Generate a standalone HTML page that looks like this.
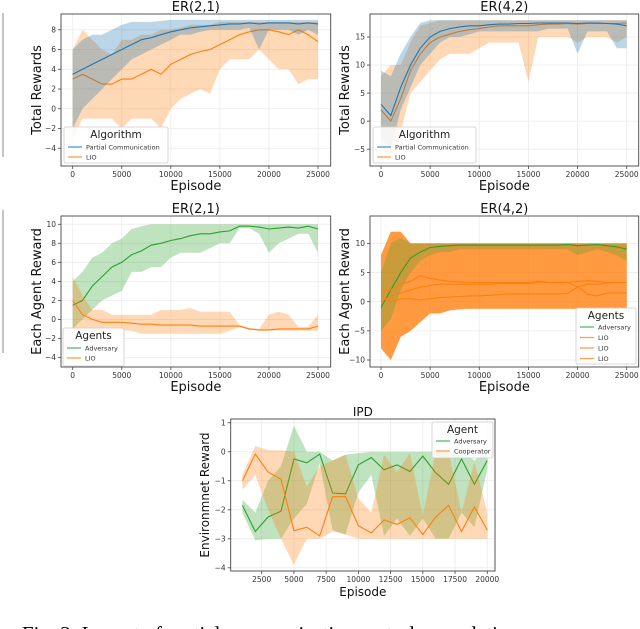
<!DOCTYPE html>
<html><head><meta charset="utf-8">
<style>
html,body{margin:0;padding:0;background:#fff;}
svg{display:block;font-family:"DejaVu Sans","Liberation Sans",sans-serif;}
</style></head>
<body>
<svg id="fig" width="640" height="629" viewBox="0 0 640 629">
<line x1="3" y1="13" x2="3" y2="157" stroke="#888" stroke-width="1"/>
<line x1="3" y1="210" x2="3" y2="353" stroke="#888" stroke-width="1"/>
<text x="22" y="641" font-family="Liberation Serif, serif" font-size="21" textLength="502" lengthAdjust="spacingAndGlyphs">Fig. 3: Impact of partial communication on task completion.</text>
</svg>
<script>
// ---------- data ----------
const ep26 = [0,1000,2000,3000,4000,5000,6000,7000,8000,9000,10000,11000,12000,13000,14000,15000,16000,17000,18000,19000,20000,21000,22000,23000,24000,25000];
// Panel A: ER(2,1) total rewards
const aBlueMean = [3.5,4,4.5,5,5.5,6,6.5,7,7.2,7.5,7.8,8,8.2,8.3,8.4,8.5,8.6,8.6,8.7,8.6,8.7,8.7,8.7,8.6,8.7,8.6];
const aBlueHi   = [6,7,7.5,7.5,8,8.5,8.8,8.8,8.8,8.9,9,9,9,9,9,9,9,9,9,9,9,9,9,9,9,9];
const aBlueLo   = [-2,0,1,2,3,4,5,5.5,6,6.5,7,7.5,7.5,7.8,8,8,8,8,8.2,6,8,8,8,7.5,8,7.5];
const aOrMean   = [3,3.5,3,2.5,2.5,3,3,3.5,4,3.5,4.5,5,5.5,5.8,6,6.5,7,7.5,7.8,8,8,7.8,7.5,8,7.5,6.8];
const aOrHi     = [6,8,7,6,5.5,7,7,7.5,7.5,8,8,8.2,8.5,8.5,8.5,8.8,8.8,8.8,8.8,8.8,8.8,8.8,8.8,8.8,8.8,8.8];
const aOrLo     = [-3,-1,-1,-1,-1,-2,-1,-1,-1,-2,0,1,1.5,2,1.5,4,5,5,5,6,5,4,4,2.5,3,3];
// Panel B: ER(4,2) total rewards
const bBlueMean = [3,1,6,10,13,15,16,16.5,16.8,17,17,17.2,17.3,17.3,17.4,17.4,17.5,17.5,17.5,17.5,17.4,17.5,17.5,17.4,17.3,17];
const bBlueHi   = [9,8,12,15,17.5,18,18,18,18,18,18,18,18,18,18,18,18,18,18,18,18,18,18,18,18,18];
const bBlueLo   = [-3,-5,2,6,10,12,14,15,15,15.5,16,16,16,16,16,16,16,16.5,16.5,16.5,12,16,16,16,13,13];
const bOrMean   = [2,0,4,9,12,14,15,15.5,16,16.3,16.5,16.8,17,17,17,17,17.2,17.3,17.3,17.4,17.3,17.4,17.4,17.4,17.4,17.5];
const bOrHi     = [8,10,10,14,17,17.5,18,18,18,18,18,18,18,18,18,18,18,18,18,18,18,18,18,18,18,18];
const bOrLo     = [-5,-6,-2,5,7,9,11,12,12,12,13,14,14,14,14,7,15,15,15,15,14,15,15,15,14,15];
// Panel C: ER(2,1) each agent
const cGrMean = [1.5,2,3.5,4.5,5.5,6,6.8,7.2,7.8,8,8.3,8.5,8.8,9,9,9.2,9.3,9.8,9.8,9.7,9.5,9.6,9.7,9.6,9.8,9.5];
const cGrHi   = [4,5,6.5,7,8,8.5,9.5,9.8,10,10,10,10,10,10,10,10,10,10,10,10,10,10,10,10,10,10];
const cGrLo   = [-1,0,1,2,2.5,3,5,5,5.5,5.5,6.5,7,7,7,7.5,8,8,9.6,9.6,9,7,8,8.5,9,9,7];
const cOrMean = [2,0.5,0,-0.3,-0.3,-0.3,-0.4,-0.5,-0.5,-0.6,-0.6,-0.6,-0.6,-0.7,-0.7,-0.7,-0.7,-0.7,-1,-1.1,-1.1,-1,-1,-1,-1,-0.7];
const cOrHi   = [4.5,2.5,1,1,0.5,0.5,0.5,0.5,0.5,1,1,1,1.2,0.8,0.8,0.8,0.8,-0.6,-0.9,-1,0.5,0.8,0.5,-0.8,-0.8,0.5];
const cOrLo   = [-1,-1.5,-1,-1.5,-1,-1.2,-1.2,-1.5,-1.5,-1.5,-1.5,-1.5,-1.5,-1.5,-1.5,-1.5,-1.2,-0.8,-1.1,-1.2,-1.2,-1.2,-1.2,-1.2,-1.2,-1.2];
// Panel D: ER(4,2) each agent
const dGrMean = [-1,2,5,7.5,8.5,9.3,9.5,9.6,9.7,9.7,9.7,9.7,9.7,9.7,9.7,9.7,9.7,9.7,9.7,9.8,9.6,9.7,9.8,9.6,9.4,9];
const dGrHi   = [5,10,11,10,10,10,10,10,10,10,10,10,10,10,10,10,10,10,10,10,10,10,10,10,10,10];
const dGrLo   = [-5,-3,2,5,7,8,8.5,8.5,9,9,9,9,9,9,9,9,9,9,9,9,8,8.5,9,8.5,8,7];
const dL1Mean = [2,2,3,3.5,4.5,4,3.7,3.5,3.4,3.3,3.3,3.3,3.3,3.3,3.3,3.3,3.5,3.3,3.3,3.3,2.5,3,3,3.2,3.3,3.3];
const dL2Mean = [0,1,1.5,2,2.5,2.8,3,3,3,3,3,3,3.1,3.1,3.1,3.1,3.3,3.3,3.2,3.3,3.5,3.6,3.5,3.3,3.3,3.3];
const dL3Mean = [1,0,0.5,0.5,0.3,0.5,0.7,0.8,0.9,1,1,1.1,1.2,1.3,1.3,1.3,1.3,1.3,1.3,1.4,2.5,1.3,1,1.5,1.5,1.5];
const dLHi    = [8,12,12,10,10,10,10,10,10,10,10,10,10,10,10,10,10,10,10,10,10,10,10,10,10,10];
const dLLo    = [-8,-10,-6,-5,-3.5,-2,-2,-1.5,-1.3,-1.2,-1.2,-1.2,-1.2,-1.2,-1.2,-1.2,-1.2,-1.2,-1.2,-1.2,-1.2,-1.2,-1.2,-1.2,-1.2,-1.2];
// Panel E: IPD
const ipdEp = [1000,2000,3000,4000,5000,6000,7000,8000,9000,10000,11000,12000,13000,14000,15000,16000,17000,18000,19000,20000];
const eGrMean = [-1.85,-2.75,-2.25,-2.05,-0.25,-0.38,-0.08,-1.42,-1.45,-0.45,-0.2,-0.62,-0.45,-0.68,-0.15,-0.72,-1.12,-0.25,-1.12,-0.3];
const eGrHi   = [-1.65,-2.1,-1.0,-0.5,0.9,0,0,-0.3,-0.1,-0.05,0,0,0,0,0,0,0,0,-0.3,0];
const eGrLo   = [-2.1,-3.05,-3.0,-3.0,-2.3,-1.8,-0.4,-2.7,-2.85,-1.4,-0.8,-2.9,-2.3,-2.9,-2.3,-3,-3,-2.1,-2.6,-0.6];
const eOrMean = [-1.0,-0.08,-0.7,-0.95,-2.72,-2.6,-2.9,-1.55,-1.55,-2.55,-2.8,-2.35,-2.5,-2.28,-2.85,-2.25,-1.85,-2.75,-1.9,-2.7];
const eOrHi   = [-0.8,0.2,0.05,0.05,0,-1.2,-0.5,-0.3,-0.1,-1.6,-2.1,-0.1,-0.7,-0.05,-2.2,0,0,-2.1,-0.35,-2.1];
const eOrLo   = [-1.3,-0.8,-2,-3,-3.9,-3,-3,-2.75,-2.85,-3,-3,-3,-3,-3,-3,-3,-3,-3,-3,-3];
// ticks
const xTicks25 = [0,5000,10000,15000,20000,25000];
const xTicksIpd = [2500,5000,7500,10000,12500,15000,17500,20000];
const yTicksA = [-4,-2,0,2,4,6,8];
const yTicksB = [-5,0,5,10,15];
const yTicksC = [-4,-2,0,2,4,6,8,10];
const yTicksD = [-10,-5,0,5,10];
const yTicksE = [-4,-3,-2,-1,0,1];

const BLUE='#1f77b4', OR='#ff7f0e', GR='#2ca02c';
const NS='http://www.w3.org/2000/svg';
const svg=document.getElementById('fig');
function mk(tag,attrs,parent){const e=document.createElementNS(NS,tag);for(const k in attrs)e.setAttribute(k,attrs[k]);(parent||svg).appendChild(e);return e;}

function panel(p){
  const g=mk('g',{});
  
  
  const sx=v=>p.x0+(v-p.xmin)/(p.xmax-p.xmin)*(p.x1-p.x0);
  const sy=v=>p.y1-(v-p.ymin)/(p.ymax-p.ymin)*(p.y1-p.y0);
  p.xt.forEach(t=>{const l=mk('line',{x1:sx(t),x2:sx(t),y1:p.y0,y2:p.y1,stroke:'#ebebeb','stroke-width':0.8},g);
    
    });
  p.yt.forEach(t=>{const l=mk('line',{x1:p.x0,x2:p.x1,y1:sy(t),y2:sy(t),stroke:'#ebebeb','stroke-width':0.8},g);
    
    });
  p.series.forEach(s=>{
    if(s.hi){
      let d='';s.x.forEach((x,i)=>{d+=(i?'L':'M')+sx(x).toFixed(1)+','+sy(s.hi[i]).toFixed(1);});
      for(let i=s.x.length-1;i>=0;i--)d+='L'+sx(s.x[i]).toFixed(1)+','+sy(s.lo[i]).toFixed(1);
      const b=mk('path',{d:d+'Z',fill:s.c,'fill-opacity':s.a||0.3,stroke:'none'},g);
      
      
    }
    if(s.m){
      let d='';s.x.forEach((x,i)=>{d+=(i?'L':'M')+sx(x).toFixed(1)+','+sy(s.m[i]).toFixed(1);});
      const l=mk('path',{d:d,fill:'none',stroke:s.c,'stroke-width':1.1},g);
      
      
    }
  });
  const f=mk('rect',{x:p.x0,y:p.y0,width:p.x1-p.x0,height:p.y1-p.y0,fill:'none',stroke:'#444','stroke-width':0.9},g);
  
  
  p.xt.forEach(t=>{
    mk('line',{x1:sx(t),x2:sx(t),y1:p.y1,y2:p.y1+3,stroke:'#444','stroke-width':0.8},g);
    const tx=mk('text',{x:sx(t),y:p.y1+11,'font-size':7.5,fill:'#333','text-anchor':'middle'},g);
    tx.textContent=t;
    
    
  });
  p.yt.forEach(t=>{
    mk('line',{x1:p.x0-3,x2:p.x0,y1:sy(t),y2:sy(t),stroke:'#444','stroke-width':0.8},g);
    const tx=mk('text',{x:p.x0-5,y:sy(t)+2.7,'font-size':7.5,fill:'#333','text-anchor':'end'},g);
    tx.textContent=(t<0?'\u2212'+(-t):t);
    
    
  });
  const tt=mk('text',{x:(p.x0+p.x1)/2,y:p.y0-3,'font-size':p.tfs||13,'text-anchor':'middle',fill:'#111'},g);
  tt.textContent=p.title;
  
  
  const xl=mk('text',{x:(p.x0+p.x1)/2,y:p.xly,'font-size':p.lfs||13,'text-anchor':'middle',fill:'#111'},g);
  xl.textContent='Episode';
  
  
  const cy=(p.y0+p.y1)/2;
  const yl=mk('text',{x:p.ylx,y:cy,'font-size':p.lfs||13,'text-anchor':'middle',fill:'#111',transform:'rotate(-90 '+p.ylx+' '+cy+')'},g);
  yl.textContent=p.ylabel;
  
  
  const L=p.leg;
  const lg=mk('g',{},g);
  
  
  mk('rect',{x:L.x,y:L.y,width:L.w,height:L.h,rx:2,fill:'#fff','fill-opacity':0.85,stroke:'#ccc','stroke-width':0.8},lg);
  const lt=mk('text',{x:L.x+L.w/2,y:L.y+11,'font-size':10.5,'text-anchor':'middle',fill:'#222'},lg);
  lt.textContent=L.title;
  
  
  L.items.forEach((it,i)=>{
    const yy=L.y+L.y1+i*L.dy;
    mk('line',{x1:L.x+4,x2:L.x+18,y1:yy,y2:yy,stroke:it[1],'stroke-width':1.3,'stroke-opacity':0.75},lg);
    const t=mk('text',{x:L.x+22,y:yy+2.5,'font-size':6.5,fill:'#333'},lg);
    t.textContent=it[0];
    
    
  });
}

const AX0=-1192, AX1=26294;
const BX0=-(381-370)/245.7*25000, BX1=25000+(638.7-626.7)/245.7*25000;
panel({name:'er21-total-chart',title:'ER(2,1)',ylabel:'Total Rewards',x0:61,x1:330.7,y0:14,y1:166,xmin:AX0,xmax:AX1,
  ymin:-5.8,ymax:9.6,xt:xTicks25,yt:yTicksA,xly:190,ylx:41,
  series:[{id:'a-lio',x:ep26,m:aOrMean,hi:aOrHi,lo:aOrLo,c:OR},{id:'a-partial',x:ep26,m:aBlueMean,hi:aBlueHi,lo:aBlueLo,c:BLUE}],
  leg:{x:64,y:127,w:104,h:36,title:'Algorithm',y1:20,dy:10,items:[['Partial Communication',BLUE],['LIO',OR]]}});
panel({name:'er42-total-chart',title:'ER(4,2)',ylabel:'Total Rewards',x0:370,x1:638.7,y0:14,y1:166,xmin:BX0,xmax:BX1,
  ymin:-8,ymax:19.1,xt:xTicks25,yt:yTicksB,xly:190,ylx:349,
  series:[{id:'b-lio',x:ep26,m:bOrMean,hi:bOrHi,lo:bOrLo,c:OR},{id:'b-partial',x:ep26,m:bBlueMean,hi:bBlueHi,lo:bBlueLo,c:BLUE}],
  leg:{x:373,y:127,w:103,h:36,title:'Algorithm',y1:20,dy:10,items:[['Partial Communication',BLUE],['LIO',OR]]}});
panel({name:'er21-agent-chart',title:'ER(2,1)',ylabel:'Each Agent Reward',x0:61,x1:330.7,y0:216,y1:367,xmin:AX0,xmax:AX1,
  ymin:-5.0,ymax:10.87,xt:xTicks25,yt:yTicksC,xly:391,ylx:41,
  series:[{id:'c-adversary',x:ep26,m:cGrMean,hi:cGrHi,lo:cGrLo,c:GR},{id:'c-lio',x:ep26,m:cOrMean,hi:cOrHi,lo:cOrLo,c:OR}],
  leg:{x:63,y:328,w:61,h:38,title:'Agents',y1:20,dy:10,items:[['Adversary',GR],['LIO',OR]]}});
panel({name:'er42-agent-chart',title:'ER(4,2)',ylabel:'Each Agent Reward',x0:370,x1:638.7,y0:216,y1:367,xmin:BX0,xmax:BX1,
  ymin:-11.2,ymax:14.7,xt:xTicks25,yt:yTicksD,xly:391,ylx:349,
  series:[{id:'d-lio-1',x:ep26,hi:dLHi,lo:dLLo,c:OR,a:0.45},{id:'d-lio-2',x:ep26,hi:dLHi,lo:dLLo,c:OR,a:0.4},{id:'d-lio-3',x:ep26,hi:dLHi,lo:dLLo,c:OR,a:0.35},
    {id:'d-adversary',x:ep26,m:dGrMean,hi:dGrHi,lo:dGrLo,c:GR,a:0.25},{id:'d-lio-1',x:ep26,m:dL1Mean,c:OR},{id:'d-lio-2',x:ep26,m:dL2Mean,c:OR},{id:'d-lio-3',x:ep26,m:dL3Mean,c:OR}],
  leg:{x:576,y:308,w:60,h:56,title:'Agents',y1:19,dy:10.5,items:[['Adversary',GR],['LIO',OR],['LIO',OR],['LIO',OR]]}});
panel({name:'ipd-chart',title:'IPD',ylabel:'Environmnet Reward',x0:230.7,x1:495,y0:419,y1:571,xmin:95,xmax:20600,
  ymin:-4.11,ymax:1.13,xt:xTicksIpd,yt:yTicksE,xly:596,ylx:209,tfs:12,lfs:12,
  series:[{id:'e-adversary',x:ipdEp,m:eGrMean,hi:eGrHi,lo:eGrLo,c:GR},{id:'e-cooperator',x:ipdEp,m:eOrMean,hi:eOrHi,lo:eOrLo,c:OR}],
  leg:{x:432,y:422,w:61,h:36,title:'Agent',y1:19,dy:10,items:[['Adversary',GR],['Cooperator',OR]]}});
</script>
</body></html>
